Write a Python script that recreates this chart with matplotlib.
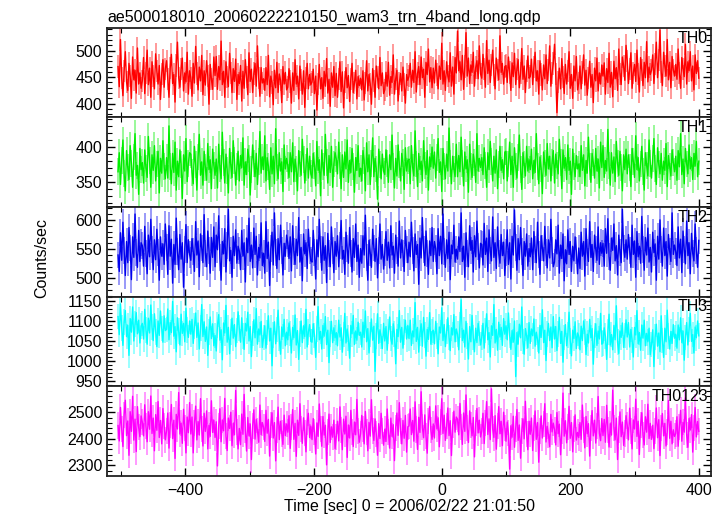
import numpy as np
import matplotlib
matplotlib.use("Agg")
import matplotlib.pyplot as plt
from matplotlib.ticker import MultipleLocator

plt.rcParams['font.family'] = ['Liberation Sans', 'DejaVu Sans']

title = "ae500018010_20060222210150_wam3_trn_4band_long.qdp"
xlabel = "Time [sec] 0 = 2006/02/22 21:01:50"
ylabel = "Counts/sec"
bands = ["TH0", "TH1", "TH2", "TH3", "TH0123"]
colors = ["#ff0000", "#00ee00", "#0000ee", "#00ffff", "#ff00ff"]
t_start, t_stop = -505, 400

# count rates (one value per ~1.9 s)
th0 = [470, 432, 521, 448, 415, 462, 498, 441, 425, 476, 452, 410, 488, 445, 463, 420, 505, 437, 458, 429,
       443, 487, 419, 458, 501, 436, 467, 412, 479, 452, 428, 494, 461, 437, 472, 408, 456, 483, 431, 466,
       481, 446, 412, 467, 493, 438, 455, 403, 472, 516, 449, 431, 465, 486, 424, 458, 441, 497, 418, 462,
       449, 414, 476, 439, 508, 457, 426, 469, 443, 491, 417, 462, 435, 481, 452, 399, 474, 446, 427, 488,
       453, 489, 427, 470, 445, 518, 436, 461, 412, 479, 450, 432, 495, 458, 421, 466, 442, 484, 408, 455,
       438, 472, 405, 461, 429, 483, 450, 417, 496, 442, 465, 421, 457, 476, 433, 509, 448, 414, 468, 439,
       447, 425, 468, 436, 491, 413, 452, 440, 398, 463, 430, 478, 421, 456, 444, 402, 470, 437, 459, 426,
       431, 466, 442, 401, 458, 425, 483, 437, 452, 409, 471, 444, 418, 462, 393, 449, 476, 428, 455, 436,
       441, 465, 419, 452, 388, 437, 474, 428, 449, 410, 461, 433, 485, 420, 446, 395, 458, 431, 470, 415,
       457, 412, 446, 479, 423, 460, 392, 441, 468, 430, 453, 404, 447, 476, 421, 439, 463, 409, 451, 434,
       448, 426, 462, 407, 439, 481, 424, 455, 437, 399, 466, 443, 412, 471, 450, 428, 487, 434, 458, 419,
       426, 459, 433, 478, 416, 451, 440, 492, 418, 447, 463, 405, 438, 457, 424, 469, 436, 401, 455, 444,
       452, 476, 431, 463, 440, 498, 422, 457, 470, 436, 488, 449, 465, 412, 478, 455, 503, 441, 468, 430,
       467, 439, 482, 455, 428, 471, 446, 514, 437, 462, 425, 479, 452, 441, 496, 433, 469, 418, 487, 458,
       537, 462, 479, 445, 491, 427, 470, 534, 452, 486, 438, 473, 459, 497, 433, 468, 481, 447, 509, 456,
       448, 493, 466, 431, 519, 457, 482, 440, 473, 501, 454, 428, 486, 463, 445, 528, 459, 476, 437, 470,
       472, 440, 488, 459, 425, 477, 451, 495, 436, 466, 483, 430, 458, 504, 446, 471, 421, 462, 490, 448,
       451, 484, 436, 469, 497, 443, 462, 418, 481, 455, 426, 473, 447, 492, 438, 464, 509, 433, 458, 476,
       512, 456, 383, 441, 467, 428, 485, 450, 419, 474, 437, 462, 498, 429, 455, 410, 471, 443, 489, 426,
       439, 471, 428, 459, 492, 435, 463, 416, 448, 480, 431, 455, 402, 467, 443, 486, 424, 458, 437, 473,
       452, 477, 418, 466, 440, 495, 431, 459, 413, 480, 447, 468, 425, 503, 456, 436, 488, 471, 444, 510,
       481, 438, 465, 496, 429, 458, 474, 442, 501, 456, 422, 487, 463, 434, 478, 449, 517, 441, 469, 455,
       463, 492, 438, 475, 516, 449, 483, 539, 460, 434, 497, 471, 452, 521, 445, 478, 430, 489, 464, 452,
       474, 446, 503, 458, 429, 487, 466, 451, 512, 437, 479, 462, 498, 443, 471, 426, 492, 457, 481, 448]
th1 = [365, 392, 347, 381, 410, 362, 338, 395, 371, 354, 402, 377, 343, 386, 419, 360, 374, 333, 398, 368,
       378, 349, 396, 370, 357, 415, 381, 343, 389, 367, 402, 352, 376, 394, 335, 384, 363, 409, 372, 355,
       385, 356, 430, 372, 348, 391, 364, 407, 339, 380, 358, 396, 375, 327, 389, 366, 412, 351, 377, 392,
       390, 364, 348, 401, 375, 339, 386, 418, 360, 379, 346, 394, 371, 353, 405, 368, 382, 341, 397, 374,
       360, 383, 342, 404, 370, 355, 421, 378, 349, 390, 367, 335, 398, 374, 357, 409, 381, 346, 372, 394,
       352, 388, 371, 413, 346, 379, 361, 397, 384, 332, 368, 403, 377, 358, 391, 347, 380, 422, 363, 386,
       368, 416, 352, 385, 373, 340, 399, 362, 387, 348, 426, 371, 355, 392, 366, 379, 337, 403, 369, 384,
       374, 357, 392, 365, 406, 351, 383, 369, 338, 395, 376, 360, 411, 382, 349, 371, 398, 356, 387, 362,
       356, 391, 374, 345, 408, 367, 382, 331, 396, 372, 360, 418, 378, 349, 388, 364, 401, 343, 376, 392,
       383, 362, 407, 374, 341, 389, 357, 393, 369, 410, 350, 381, 364, 398, 373, 336, 385, 367, 402, 358,
       370, 352, 395, 381, 338, 406, 365, 389, 347, 377, 413, 358, 384, 369, 326, 397, 375, 355, 390, 366,
       361, 396, 377, 350, 389, 368, 417, 372, 342, 384, 359, 403, 375, 352, 391, 378, 340, 399, 366, 381,
       383, 348, 402, 371, 359, 423, 376, 344, 391, 368, 380, 352, 409, 374, 361, 395, 339, 386, 372, 400,
       370, 393, 356, 385, 412, 364, 379, 337, 398, 373, 355, 390, 366, 427, 377, 348, 387, 369, 358, 404,
       358, 388, 365, 414, 377, 345, 393, 369, 382, 336, 404, 373, 357, 390, 378, 350, 419, 366, 384, 371,
       385, 361, 399, 374, 343, 392, 368, 408, 379, 352, 387, 363, 396, 341, 375, 401, 367, 382, 355, 393,
       394, 352, 376, 407, 361, 387, 343, 399, 372, 356, 385, 417, 368, 340, 392, 375, 359, 401, 366, 382,
       368, 397, 355, 381, 364, 419, 373, 348, 386, 370, 334, 393, 377, 360, 405, 369, 387, 352, 378, 395,
       349, 390, 374, 362, 411, 378, 341, 396, 370, 385, 354, 403, 367, 380, 333, 397, 373, 358, 388, 369,
       376, 358, 402, 367, 389, 345, 381, 363, 414, 372, 350, 391, 378, 356, 398, 366, 383, 342, 407, 371,
       402, 357, 381, 366, 425, 374, 346, 392, 363, 386, 351, 408, 377, 360, 394, 371, 338, 389, 368, 397,
       362, 389, 371, 344, 398, 380, 357, 416, 368, 385, 352, 376, 401, 365, 339, 392, 374, 359, 410, 377,
       356, 384, 412, 370, 347, 399, 375, 362, 391, 353, 380, 367, 405, 344, 388, 372, 359, 396, 378, 365,
       387, 353, 395, 372, 419, 361, 383, 348, 398, 376, 362, 403, 369, 385, 354, 391, 373, 408, 358, 380]
th2 = [540, 512, 578, 531, 596, 548, 505, 563, 527, 587, 552, 498, 571, 536, 610, 544, 519, 582, 529, 561,
       556, 521, 589, 543, 508, 574, 537, 601, 549, 515, 566, 532, 584, 545, 497, 571, 538, 559, 524, 593,
       553, 507, 590, 538, 567, 492, 558, 524, 603, 546, 515, 575, 533, 561, 485, 549, 592, 527, 566, 541,
       531, 568, 546, 512, 597, 540, 564, 503, 576, 552, 527, 609, 543, 520, 581, 548, 509, 570, 536, 588,
       520, 574, 549, 607, 536, 497, 563, 542, 585, 511, 556, 618, 530, 548, 502, 572, 539, 583, 526, 555,
       547, 515, 582, 538, 561, 494, 569, 544, 603, 529, 557, 518, 586, 541, 572, 506, 553, 535, 595, 522,
       543, 509, 597, 534, 562, 488, 551, 579, 523, 612, 545, 517, 568, 532, 591, 547, 506, 560, 538, 574,
       560, 534, 571, 513, 590, 546, 524, 567, 539, 604, 528, 553, 496, 576, 542, 561, 517, 584, 547, 530,
       528, 582, 545, 499, 566, 537, 601, 550, 514, 571, 531, 556, 493, 577, 542, 520, 588, 548, 510, 563,
       538, 573, 520, 556, 599, 533, 548, 507, 579, 551, 526, 587, 543, 511, 568, 536, 593, 529, 557, 502,
       551, 526, 573, 540, 608, 535, 497, 565, 544, 519, 584, 552, 529, 568, 501, 547, 593, 533, 558, 516,
       545, 580, 531, 562, 518, 590, 540, 555, 509, 574, 547, 521, 598, 535, 566, 543, 512, 582, 550, 527,
       562, 537, 596, 548, 513, 576, 541, 558, 490, 569, 535, 604, 550, 522, 581, 543, 507, 564, 539, 587,
       529, 563, 551, 508, 585, 539, 572, 525, 610, 546, 519, 566, 534, 579, 498, 557, 542, 591, 528, 550,
       533, 571, 546, 612, 529, 555, 502, 578, 542, 520, 590, 548, 565, 511, 573, 537, 598, 554, 518, 560,
       558, 523, 594, 541, 569, 512, 583, 547, 530, 605, 536, 561, 517, 588, 543, 526, 575, 539, 562, 505,
       545, 583, 524, 561, 499, 572, 540, 617, 553, 514, 568, 532, 587, 546, 505, 563, 538, 576, 521, 551,
       537, 569, 515, 580, 549, 527, 596, 541, 507, 573, 552, 530, 589, 544, 518, 566, 535, 601, 548, 520,
       528, 566, 542, 591, 509, 557, 534, 576, 496, 549, 525, 583, 541, 563, 512, 555, 530, 571, 547, 508,
       552, 517, 579, 538, 563, 504, 585, 545, 529, 597, 536, 558, 512, 574, 550, 531, 588, 524, 561, 543,
       560, 521, 585, 543, 602, 537, 514, 569, 548, 593, 530, 556, 506, 574, 545, 527, 618, 551, 536, 566,
       533, 575, 548, 519, 591, 541, 564, 502, 580, 537, 555, 526, 606, 549, 514, 570, 540, 586, 528, 553,
       511, 579, 544, 559, 497, 572, 533, 600, 549, 521, 586, 539, 563, 504, 575, 546, 529, 612, 541, 557,
       546, 522, 588, 535, 567, 510, 581, 550, 525, 598, 539, 561, 508, 577, 543, 530, 593, 547, 519, 565]
th3 = [1110, 1065, 1142, 1082, 1038, 1097, 1125, 1060, 1088, 1013, 1105, 1071, 1134, 1049, 1092, 1120, 1067, 1101, 1044, 1086,
       1093, 1054, 1128, 1077, 1041, 1106, 1069, 1139, 1084, 1050, 1117, 1072, 1035, 1099, 1063, 1124, 1080, 1046, 1112, 1075,
       1078, 1129, 1052, 1095, 1070, 1148, 1061, 1085, 1022, 1107, 1074, 1039, 1116, 1068, 1093, 1047, 1131, 1076, 1058, 1099,
       1066, 1103, 1043, 1087, 1119, 1058, 1094, 1029, 1081, 1140, 1060, 1097, 1048, 1084, 1013, 1071, 1109, 1055, 1092, 1037,
       1063, 1024, 1089, 1115, 1051, 1077, 1002, 1094, 1069, 1138, 1046, 1083, 1017, 1072, 1106, 1056, 1090, 1035, 1075, 1122,
       1081, 1046, 1107, 1062, 1028, 1093, 1074, 1121, 1049, 1085, 1010, 1068, 1102, 1057, 1130, 1041, 1079, 1064, 1098, 1033,
       1058, 1087, 1031, 1070, 1112, 1049, 1081, 987, 1064, 1097, 1042, 1078, 1126, 1055, 1016, 1084, 1060, 1103, 1037, 1071,
       1052, 1094, 1068, 1019, 1083, 1057, 1114, 1039, 1075, 1003, 1066, 1099, 1045, 1087, 1060, 1128, 1034, 1072, 1090, 1048,
       1046, 1092, 1063, 1008, 1079, 1135, 1052, 1073, 1029, 1088, 1061, 1110, 1040, 1076, 995, 1067, 1098, 1045, 1082, 1057,
       1070, 1037, 1101, 1059, 1082, 1021, 1065, 1118, 1044, 1079, 1056, 1006, 1088, 1067, 1113, 1040, 1074, 1051, 1096, 1063,
       1071, 1034, 1096, 1058, 1124, 1047, 1080, 1019, 1065, 1104, 1051, 1086, 973, 1062, 1117, 1043, 1077, 1060, 1030, 1093,
       1049, 1085, 1026, 1073, 1109, 1055, 1041, 1092, 1067, 992, 1078, 1060, 1125, 1046, 1083, 1031, 1071, 1101, 1054, 1088,
       1055, 1101, 1038, 1074, 1059, 1145, 1048, 1083, 1021, 1069, 1092, 1036, 1108, 1064, 1011, 1078, 1053, 1120, 1041, 1072,
       1076, 1042, 1098, 1061, 1017, 1084, 1069, 1132, 1050, 1090, 1035, 1073, 1107, 1058, 1025, 1082, 1064, 1115, 1047, 1079,
       1066, 1027, 1089, 1152, 1050, 1076, 1034, 1098, 1061, 1004, 1085, 1047, 1113, 1058, 1022, 1081, 1045, 1093, 1068, 1039,
       1058, 1093, 1031, 1075, 1117, 1052, 1070, 1009, 1087, 1063, 1140, 1044, 1078, 1026, 1096, 1059, 1083, 1038, 1105, 1066,
       1087, 1052, 1119, 1063, 1028, 1075, 1046, 1099, 960, 1070, 1041, 1091, 1057, 1134, 1048, 1016, 1080, 1062, 1032, 1095,
       1043, 1079, 1062, 1104, 1036, 1071, 1053, 1019, 1088, 1058, 1127, 1045, 1076, 1000, 1067, 1093, 1050, 1084, 1032, 1110,
       1054, 1085, 1025, 1067, 1108, 1043, 1073, 996, 1058, 1090, 1037, 1064, 1121, 1049, 1012, 1076, 1055, 1097, 1030, 1069,
       1061, 1027, 1086, 1050, 1099, 1072, 1015, 1066, 1044, 1103, 1057, 1080, 991, 1063, 1092, 1038, 1074, 1054, 1118, 1041,
       1044, 1082, 1061, 1003, 1071, 1116, 1039, 1065, 1027, 1088, 1052, 1137, 1046, 1018, 1074, 1058, 1094, 1033, 1063, 1102,
       1059, 1095, 1034, 1078, 1052, 1009, 1083, 1064, 1125, 1042, 1070, 1026, 1089, 1056, 1101, 1037, 1068, 1047, 1081, 1015,
       1040, 1077, 985, 1059, 1091, 1036, 1069, 1022, 1112, 1050, 1008, 1081, 1047, 1126, 1061, 1029, 1073, 1043, 1090, 1056,
       1066, 1031, 1089, 1052, 1107, 1045, 1074, 1001, 1058, 1095, 1039, 1078, 1118, 1048, 1065, 1019, 1084, 1057, 1099, 1062]
th0123 = [2450, 2392, 2518, 2436, 2371, 2489, 2545, 2412, 2467, 2338, 2502, 2428, 2560, 2395, 2474, 2352, 2521, 2443, 2408, 2486,
          2463, 2411, 2528, 2447, 2389, 2502, 2436, 2561, 2420, 2478, 2355, 2491, 2432, 2540, 2405, 2469, 2381, 2514, 2449, 2396,
          2431, 2497, 2365, 2453, 2529, 2401, 2470, 2326, 2492, 2437, 2574, 2418, 2459, 2383, 2511, 2440, 2347, 2482, 2423, 2536,
          2418, 2482, 2347, 2458, 2523, 2396, 2465, 2414, 2551, 2437, 2373, 2496, 2428, 2505, 2362, 2451, 2409, 2543, 2424, 2470,
          2405, 2464, 2298, 2447, 2513, 2389, 2471, 2430, 2552, 2411, 2356, 2478, 2439, 2500, 2374, 2458, 2415, 2582, 2426, 2362,
          2439, 2378, 2493, 2417, 2567, 2432, 2354, 2480, 2411, 2456, 2322, 2448, 2509, 2399, 2472, 2430, 2387, 2527, 2416, 2461,
          2444, 2390, 2507, 2421, 2473, 2335, 2452, 2498, 2403, 2461, 2317, 2433, 2519, 2397, 2466, 2420, 2379, 2489, 2412, 2456,
          2425, 2487, 2364, 2443, 2510, 2398, 2458, 2334, 2470, 2413, 2532, 2437, 2383, 2479, 2421, 2351, 2464, 2496, 2405, 2448,
          2397, 2476, 2425, 2343, 2460, 2409, 2531, 2438, 2372, 2484, 2414, 2451, 2302, 2427, 2493, 2386, 2445, 2406, 2470, 2363,
          2408, 2466, 2392, 2520, 2434, 2359, 2474, 2418, 2485, 2330, 2452, 2403, 2507, 2426, 2371, 2463, 2415, 2548, 2431, 2387,
          2419, 2488, 2437, 2381, 2503, 2426, 2355, 2462, 2410, 2547, 2431, 2394, 2475, 2418, 2338, 2457, 2401, 2496, 2429, 2376,
          2436, 2390, 2512, 2424, 2365, 2478, 2409, 2453, 2318, 2441, 2497, 2413, 2536, 2428, 2381, 2469, 2402, 2488, 2350, 2445,
          2448, 2512, 2416, 2469, 2391, 2539, 2435, 2360, 2481, 2424, 2577, 2443, 2404, 2490, 2412, 2346, 2467, 2521, 2433, 2398,
          2456, 2403, 2524, 2437, 2479, 2370, 2462, 2551, 2420, 2489, 2394, 2447, 2516, 2412, 2468, 2337, 2451, 2504, 2425, 2482,
          2474, 2415, 2533, 2446, 2379, 2497, 2428, 2565, 2440, 2386, 2505, 2453, 2411, 2480, 2332, 2459, 2514, 2422, 2470, 2407,
          2429, 2496, 2382, 2458, 2540, 2416, 2475, 2397, 2588, 2438, 2405, 2487, 2361, 2449, 2521, 2419, 2466, 2374, 2500, 2442,
          2391, 2463, 2421, 2286, 2449, 2406, 2485, 2368, 2438, 2510, 2394, 2452, 2327, 2431, 2475, 2400, 2541, 2417, 2359, 2466,
          2417, 2478, 2356, 2440, 2505, 2398, 2461, 2312, 2429, 2486, 2403, 2455, 2532, 2388, 2447, 2415, 2370, 2492, 2426, 2459,
          2434, 2377, 2499, 2419, 2455, 2340, 2428, 2572, 2410, 2468, 2385, 2446, 2522, 2402, 2461, 2351, 2437, 2490, 2395, 2424,
          2405, 2461, 2398, 2527, 2433, 2366, 2484, 2419, 2457, 2335, 2442, 2506, 2411, 2470, 2384, 2449, 2559, 2421, 2393, 2476,
          2412, 2473, 2387, 2526, 2433, 2369, 2457, 2414, 2583, 2441, 2396, 2478, 2322, 2435, 2501, 2408, 2463, 2375, 2420, 2487,
          2450, 2396, 2515, 2428, 2362, 2471, 2437, 2549, 2409, 2466, 2341, 2452, 2498, 2414, 2377, 2483, 2425, 2530, 2401, 2458,
          2398, 2451, 2363, 2429, 2516, 2404, 2472, 2337, 2440, 2495, 2411, 2458, 2373, 2426, 2544, 2402, 2466, 2381, 2434, 2409,
          2420, 2483, 2372, 2445, 2507, 2391, 2462, 2425, 2554, 2414, 2368, 2476, 2433, 2491, 2350, 2440, 2518, 2407, 2465, 2428]
series = [th0, th1, th2, th3, th0123]

# typical 1-sigma error per band
errors = [21, 19, 23, 32, 49]
ylims = [(374, 543), (315, 442), (469, 622), (936, 1160), (2261, 2598)]
ymajor = [50, 50, 50, 50, 100]
yminor = [10, 10, 10, 10, 20]

fig, axes = plt.subplots(5, 1, sharex=True, figsize=(7.24, 5.16), dpi=100)
fig.subplots_adjust(left=0.148, right=0.982, top=0.946, bottom=0.078, hspace=0)

for ax, y, name, c, err, yl, mj, mn in zip(axes, series, bands, colors, errors, ylims, ymajor, yminor):
    y = np.array(y)
    t = np.linspace(t_start, t_stop, len(y))
    ax.errorbar(t, y, yerr=err, fmt='none', ecolor=c, elinewidth=1.4, alpha=0.4)
    ax.plot(t, y, color=c, lw=1.0)
    ax.set_ylim(*yl)
    ax.set_xlim(-522, 419)
    ax.yaxis.set_major_locator(MultipleLocator(mj))
    ax.yaxis.set_minor_locator(MultipleLocator(mn))
    ax.xaxis.set_major_locator(MultipleLocator(200))
    ax.xaxis.set_minor_locator(MultipleLocator(100))
    ax.tick_params(which='both', direction='in', top=True, right=True, labelsize=11.5)
    ax.tick_params(which='major', length=6, width=1)
    ax.tick_params(which='minor', length=3.5, width=0.8)
    ax.tick_params(axis='x', pad=5)
    for s in ax.spines.values():
        s.set_linewidth(1.3)
        s.set_color('#222222')
    ax.text(0.995, 0.97, name, transform=ax.transAxes, ha='right', va='top', fontsize=11.5)

axes[0].set_title(title, loc='left', fontsize=11.5, pad=4)
axes[-1].set_xlabel(xlabel, fontsize=11.5, labelpad=1)
fig.text(0.057, 0.5, ylabel, rotation=90, ha='center', va='center', fontsize=11.5)

fig.savefig("out.png", dpi=100)
